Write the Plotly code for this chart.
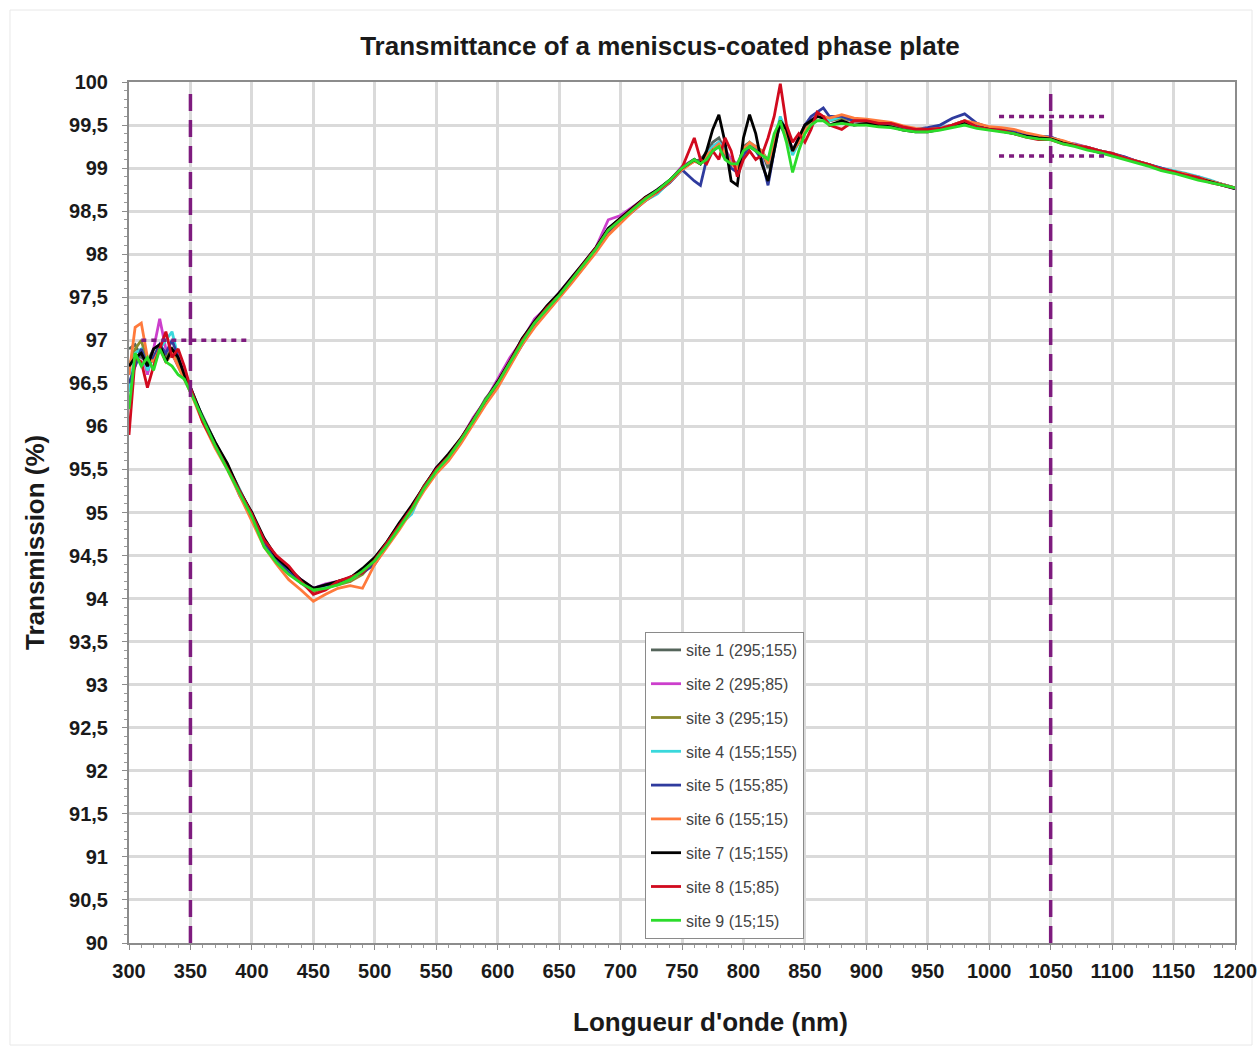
import plotly.graph_objects as go

# Wavelength sampling (nm)
wavelengths = [300, 305, 310, 315, 320, 325, 330, 335, 340, 345, 350,
               360, 370, 380, 390, 400, 410, 420, 430, 440, 450,
               460, 470, 480, 490, 500, 510, 520, 530, 540, 550,
               560, 570, 580, 590, 600, 610, 620, 630, 640, 650,
               660, 670, 680, 690, 700, 710, 720, 730, 740, 750,
               760, 765, 770, 775, 780, 785, 790, 795, 800, 805,
               810, 815, 820, 825, 830, 835, 840, 845, 850, 855,
               860, 865, 870, 880, 890, 900, 910, 920, 930, 940,
               950, 960, 970, 980, 990, 1000, 1010, 1020, 1030, 1040,
               1050, 1060, 1070, 1080, 1090, 1100, 1110, 1120, 1130, 1140,
               1150, 1160, 1170, 1180, 1190, 1200]

# Measured transmission (%) per site
site1 = [96.9, 96.95, 96.8, 96.75, 96.9, 96.95, 96.75, 96.85, 96.7, 96.55, 96.4,
         96.12, 95.82, 95.55, 95.27, 94.97, 94.66, 94.46, 94.33, 94.2, 94.12,
         94.14, 94.2, 94.24, 94.3, 94.47, 94.66, 94.87, 95.04, 95.31, 95.5,
         95.67, 95.84, 96.06, 96.32, 96.5, 96.74, 97.02, 97.2, 97.36, 97.54,
         97.7, 97.9, 98.06, 98.3, 98.42, 98.5, 98.66, 98.72, 98.86, 99.0,
         99.08, 99.1, 99.18, 99.3, 99.35, 99.2, 99.05, 99.0, 99.25, 99.3,
         99.22, 99.2, 99.0, 99.3, 99.5, 99.35, 99.2, 99.3, 99.5, 99.55,
         99.62, 99.6, 99.55, 99.6, 99.55, 99.56, 99.52, 99.5, 99.47, 99.45,
         99.44, 99.46, 99.5, 99.54, 99.5, 99.47, 99.44, 99.42, 99.38, 99.36,
         99.35, 99.3, 99.27, 99.23, 99.2, 99.16, 99.12, 99.07, 99.04, 98.99,
         98.96, 98.92, 98.89, 98.85, 98.81, 98.77]

site2 = [96.6, 96.7, 96.9, 96.6, 96.9, 97.25, 96.9, 96.85, 96.7, 96.6, 96.45,
         96.08, 95.8, 95.55, 95.22, 94.98, 94.68, 94.47, 94.35, 94.22, 94.12,
         94.17, 94.2, 94.2, 94.33, 94.45, 94.64, 94.86, 95.06, 95.28, 95.52,
         95.64, 95.85, 96.1, 96.3, 96.55, 96.8, 97.0, 97.25, 97.38, 97.55,
         97.72, 97.9, 98.08, 98.4, 98.45, 98.55, 98.65, 98.75, 98.85, 99.02,
         99.1, 99.05, 99.15, 99.25, 99.3, 99.22, 99.1, 99.05, 99.2, 99.28,
         99.25, 99.18, 99.1, 99.3, 99.55, 99.45, 99.2, 99.35, 99.5, 99.55,
         99.62, 99.6, 99.55, 99.58, 99.55, 99.54, 99.52, 99.5, 99.48, 99.44,
         99.45, 99.47, 99.5, 99.55, 99.5, 99.47, 99.44, 99.42, 99.38, 99.36,
         99.36, 99.3, 99.28, 99.24, 99.2, 99.16, 99.13, 99.08, 99.03, 99.0,
         98.96, 98.92, 98.9, 98.85, 98.8, 98.76]

site3 = [96.7, 96.9, 97.0, 96.75, 96.8, 96.95, 96.8, 96.9, 96.75, 96.6, 96.45,
         96.1, 95.8, 95.56, 95.24, 94.98, 94.64, 94.43, 94.3, 94.18, 94.08,
         94.13, 94.16, 94.2, 94.28, 94.44, 94.64, 94.86, 95.06, 95.3, 95.5,
         95.66, 95.86, 96.06, 96.28, 96.5, 96.74, 96.98, 97.2, 97.38, 97.52,
         97.7, 97.88, 98.06, 98.28, 98.4, 98.52, 98.64, 98.74, 98.86, 99.0,
         99.1, 99.05, 99.12, 99.22, 99.28, 99.2, 99.05, 99.02, 99.2, 99.28,
         99.25, 99.2, 99.08, 99.3, 99.55, 99.4, 99.18, 99.3, 99.45, 99.52,
         99.6, 99.6, 99.55, 99.58, 99.55, 99.54, 99.52, 99.5, 99.47, 99.44,
         99.44, 99.46, 99.5, 99.54, 99.5, 99.46, 99.44, 99.41, 99.38, 99.36,
         99.35, 99.3, 99.27, 99.23, 99.2, 99.16, 99.12, 99.08, 99.04, 98.99,
         98.95, 98.92, 98.89, 98.85, 98.81, 98.77]

site4 = [96.4, 96.85, 96.9, 96.65, 96.8, 96.9, 97.0, 97.1, 96.8, 96.6, 96.45,
         96.1, 95.8, 95.54, 95.26, 94.98, 94.65, 94.45, 94.32, 94.2, 94.1,
         94.15, 94.18, 94.22, 94.32, 94.45, 94.65, 94.85, 94.98, 95.3, 95.5,
         95.65, 95.85, 96.07, 96.3, 96.5, 96.75, 97.0, 97.2, 97.38, 97.5,
         97.68, 97.88, 98.07, 98.3, 98.4, 98.52, 98.62, 98.7, 98.84, 98.98,
         99.1, 99.05, 99.15, 99.25, 99.3, 99.2, 99.05, 99.02, 99.2, 99.3,
         99.25, 99.2, 99.05, 99.3, 99.6, 99.4, 99.15, 99.3, 99.45, 99.5,
         99.6, 99.6, 99.55, 99.6, 99.55, 99.55, 99.52, 99.52, 99.48, 99.45,
         99.45, 99.47, 99.5, 99.55, 99.5, 99.46, 99.44, 99.42, 99.38, 99.37,
         99.36, 99.3, 99.27, 99.24, 99.2, 99.17, 99.12, 99.08, 99.04, 99.0,
         98.97, 98.94, 98.9, 98.86, 98.81, 98.77]

site5 = [96.5, 96.7, 96.9, 96.7, 96.8, 96.95, 96.85, 97.0, 96.8, 96.6, 96.42,
         96.1, 95.78, 95.55, 95.2, 94.96, 94.65, 94.45, 94.3, 94.2, 94.12,
         94.16, 94.18, 94.25, 94.3, 94.4, 94.62, 94.84, 95.03, 95.28, 95.48,
         95.64, 95.83, 96.05, 96.27, 96.48, 96.72, 96.95, 97.18, 97.33, 97.5,
         97.68, 97.85, 98.05, 98.25, 98.38, 98.5, 98.62, 98.72, 98.83, 98.98,
         98.85, 98.8, 99.1, 99.2, 99.25, 99.15, 99.0, 98.95, 99.15, 99.25,
         99.2, 99.1, 98.8, 99.2, 99.55, 99.4, 99.2, 99.3, 99.5, 99.6,
         99.65, 99.7, 99.6, 99.6, 99.55, 99.55, 99.52, 99.52, 99.48, 99.45,
         99.47, 99.5, 99.58, 99.63, 99.52, 99.47, 99.45, 99.43, 99.39, 99.37,
         99.36, 99.31, 99.27, 99.24, 99.2, 99.17, 99.13, 99.08, 99.04, 99.0,
         98.96, 98.93, 98.89, 98.85, 98.81, 98.77]

site6 = [96.6, 97.15, 97.2, 96.8, 96.75, 96.9, 96.75, 96.85, 96.7, 96.55, 96.4,
         96.05, 95.75, 95.5, 95.2, 94.92, 94.6, 94.4, 94.22, 94.1, 93.97,
         94.05, 94.12, 94.15, 94.12, 94.4, 94.6, 94.8, 95.02, 95.25, 95.45,
         95.6, 95.8, 96.02, 96.25, 96.45, 96.7, 96.95, 97.15, 97.32, 97.48,
         97.66, 97.84, 98.02, 98.22, 98.36, 98.5, 98.62, 98.72, 98.84, 98.98,
         99.08, 99.05, 99.15, 99.22, 99.28, 99.18, 99.05, 99.0, 99.22, 99.3,
         99.25, 99.2, 99.05, 99.3, 99.55, 99.4, 99.2, 99.3, 99.45, 99.5,
         99.6, 99.6, 99.58, 99.62, 99.58, 99.57, 99.55, 99.53, 99.49, 99.46,
         99.45, 99.46, 99.5, 99.55, 99.52, 99.48, 99.47, 99.45, 99.41, 99.38,
         99.35, 99.32, 99.27, 99.24, 99.2, 99.17, 99.12, 99.08, 99.04, 98.99,
         98.96, 98.93, 98.89, 98.85, 98.81, 98.77]

site7 = [96.7, 96.8, 96.85, 96.7, 96.9, 96.95, 96.75, 96.9, 96.8, 96.6, 96.45,
         96.1, 95.82, 95.57, 95.25, 95.0, 94.7, 94.48, 94.35, 94.22, 94.12,
         94.16, 94.2, 94.24, 94.35, 94.48, 94.66, 94.88, 95.08, 95.3, 95.52,
         95.68, 95.86, 96.08, 96.3, 96.52, 96.76, 97.02, 97.22, 97.4, 97.55,
         97.72, 97.9, 98.08, 98.3, 98.42, 98.54, 98.66, 98.75, 98.86, 99.0,
         99.1, 99.05, 99.2, 99.45, 99.62, 99.3, 98.85, 98.8, 99.35, 99.62,
         99.4, 99.05, 98.85, 99.2, 99.55, 99.45, 99.2, 99.35, 99.5, 99.55,
         99.6, 99.58, 99.5, 99.55, 99.5, 99.52, 99.5, 99.48, 99.44, 99.42,
         99.42, 99.45, 99.48, 99.52, 99.48, 99.45, 99.43, 99.4, 99.37, 99.35,
         99.34, 99.29, 99.26, 99.22, 99.18, 99.15, 99.11, 99.07, 99.03, 98.98,
         98.95, 98.91, 98.88, 98.84, 98.8, 98.76]

site8 = [95.9, 96.8, 96.75, 96.45, 96.7, 96.9, 97.1, 96.8, 96.9, 96.7, 96.45,
         96.05, 95.78, 95.52, 95.25, 94.98, 94.68, 94.5, 94.38, 94.2, 94.05,
         94.1, 94.2, 94.25, 94.3, 94.45, 94.65, 94.85, 95.05, 95.3, 95.5,
         95.65, 95.85, 96.07, 96.3, 96.5, 96.75, 97.0, 97.2, 97.38, 97.52,
         97.7, 97.88, 98.07, 98.28, 98.4, 98.52, 98.65, 98.73, 98.85, 99.0,
         99.35, 99.1, 99.05, 99.2, 99.1, 99.35, 99.2, 98.9, 99.1, 99.2,
         99.1, 99.15, 99.35, 99.6, 99.98, 99.5, 99.3, 99.4, 99.3, 99.45,
         99.65, 99.6, 99.5, 99.45, 99.55, 99.55, 99.52, 99.52, 99.48, 99.45,
         99.45, 99.46, 99.5, 99.55, 99.48, 99.45, 99.44, 99.4, 99.36, 99.33,
         99.33, 99.28, 99.26, 99.24, 99.2, 99.17, 99.12, 99.08, 99.04, 98.99,
         98.96, 98.92, 98.89, 98.83, 98.8, 98.77]

site9 = [96.2, 96.85, 96.7, 96.8, 96.65, 96.9, 96.75, 96.7, 96.6, 96.55, 96.4,
         96.08, 95.78, 95.5, 95.22, 94.95, 94.6, 94.42, 94.28, 94.18, 94.1,
         94.12, 94.16, 94.22, 94.32, 94.44, 94.62, 94.82, 95.03, 95.28, 95.48,
         95.64, 95.84, 96.06, 96.3, 96.5, 96.74, 96.98, 97.2, 97.36, 97.52,
         97.7, 97.88, 98.06, 98.28, 98.4, 98.52, 98.64, 98.74, 98.86, 99.0,
         99.1, 99.05, 99.1, 99.2, 99.25, 99.1, 99.05, 99.05, 99.2, 99.25,
         99.2, 99.15, 99.1, 99.4, 99.55, 99.3, 98.95, 99.2, 99.4, 99.5,
         99.55, 99.55, 99.5, 99.52, 99.5, 99.5, 99.48, 99.47, 99.44, 99.42,
         99.42, 99.44, 99.47, 99.5, 99.46, 99.44, 99.42, 99.4, 99.36, 99.34,
         99.33, 99.28, 99.25, 99.21, 99.18, 99.14, 99.1, 99.06, 99.02, 98.97,
         98.94, 98.9, 98.86, 98.83, 98.8, 98.77]

site_names = ["site 1 (295;155)", "site 2 (295;85)", "site 3 (295;15)",
              "site 4 (155;155)", "site 5 (155;85)", "site 6 (155;15)",
              "site 7 (15;155)", "site 8 (15;85)", "site 9 (15;15)"]
site_colors = ["#55655b", "#cc3fcc", "#8a8a2e", "#3ad8dc", "#2f3b9e",
               "#ff7a3c", "#000000", "#d10a1e", "#2bdc2b"]

x_ticks = [300, 350, 400, 450, 500, 550, 600, 650, 700, 750, 800, 850, 900,
           950, 1000, 1050, 1100, 1150, 1200]
y_ticks = [90, 90.5, 91, 91.5, 92, 92.5, 93, 93.5, 94, 94.5, 95, 95.5, 96,
           96.5, 97, 97.5, 98, 98.5, 99, 99.5, 100]
y_tick_labels = ["90", "90,5", "91", "91,5", "92", "92,5", "93", "93,5", "94",
                 "94,5", "95", "95,5", "96", "96,5", "97", "97,5", "98", "98,5",
                 "99", "99,5", "100"]

# Reference limits marked on the chart
band_edges = [350, 1050]
uv_level = 97
uv_span = [310, 397]
ir_levels = [99.6, 99.14]
ir_span = [1008, 1094]

series = [site1, site2, site3, site4, site5, site6, site7, site8, site9]

fig = go.Figure()
for i, (name, color, vals) in enumerate(zip(site_names, site_colors, series)):
    fig.add_trace(go.Scatter(
        x=wavelengths, y=vals, mode="lines", name=name,
        line=dict(color=color, width=2.8),
        legendgroup=f"g{i}",
    ))

purple = "#7e1b7e"
for xv in band_edges:
    fig.add_shape(type="line", xref="x", yref="paper", x0=xv, x1=xv, y0=0, y1=0.988,
                  line=dict(color=purple, width=3.5, dash="17px,9px"), layer="above")
fig.add_shape(type="line", xref="x", yref="y", x0=uv_span[0], x1=uv_span[1],
              y0=uv_level, y1=uv_level,
              line=dict(color=purple, width=3.5, dash="5px,5px"), layer="above")
for yv in ir_levels:
    fig.add_shape(type="line", xref="x", yref="y", x0=ir_span[0], x1=ir_span[1],
                  y0=yv, y1=yv,
                  line=dict(color=purple, width=3.5, dash="5px,5px"), layer="above")

# faint chart-area frame
fig.add_shape(type="rect", xref="paper", yref="paper",
              x0=-0.1076, x1=1.0154, y0=-0.1185, y1=1.0836,
              line=dict(color="#e8e8e8", width=1), layer="below")

tick_font = dict(family="Liberation Sans", size=20, color="#1a1a1a", weight="bold")
grid_col = "#dadada"

fig.update_xaxes(
    range=[300, 1200], tickvals=x_ticks, ticktext=[str(v) for v in x_ticks],
    tickfont=tick_font, showgrid=True, gridcolor=grid_col, gridwidth=3,
    showline=True, linecolor="#8c8c8c", linewidth=2, mirror=True,
    ticks="outside", ticklen=5, tickcolor="#8c8c8c",
    minor=dict(dtick=10, ticks="outside", ticklen=3, tickcolor="#9a9a9a", showgrid=False),
    zeroline=False, ticklabelstandoff=4,
)
fig.update_yaxes(
    range=[90, 100], tickvals=y_ticks, ticktext=y_tick_labels,
    tickfont=tick_font, showgrid=True, gridcolor=grid_col, gridwidth=3,
    showline=True, linecolor="#8c8c8c", linewidth=2, mirror=True,
    ticks="outside", ticklen=5, tickcolor="#8c8c8c",
    minor=dict(dtick=0.1, ticks="outside", ticklen=3, tickcolor="#9a9a9a", showgrid=False),
    zeroline=False, ticklabelstandoff=10,
)

title_font = dict(family="Liberation Sans", size=26, color="#1a1a1a", weight="bold")
fig.update_layout(
    width=1258, height=1047,
    margin=dict(l=129, r=23, t=82, b=104, autoexpand=False),
    paper_bgcolor="white", plot_bgcolor="white",
    title=dict(text="Transmittance of a meniscus-coated phase plate",
               x=660 / 1258, xanchor="center", xref="container",
               y=1 - 46 / 1047, yanchor="middle", yref="container",
               font=dict(family="Liberation Sans", size=26, color="#1a1a1a", weight="bold")),
    legend=dict(
        x=(645 - 129) / 1106, y=(943 - 632) / 861, xanchor="left", yanchor="top",
        bgcolor="white", bordercolor="#8a8a8a", borderwidth=1,
        font=dict(family="Liberation Sans", size=16, color="#444444"),
        tracegroupgap=10, itemwidth=30,
    ),
    annotations=[
        dict(text="Longueur d'onde (nm)", xref="paper", yref="paper",
             x=(710 - 129) / 1106, y=(943 - 1022) / 861, xanchor="center",
             yanchor="middle", showarrow=False, font=title_font),
        dict(text="Transmission (%)", xref="paper", yref="paper",
             x=(35 - 129) / 1106, y=(943 - 543) / 861, xanchor="center",
             yanchor="middle", showarrow=False, textangle=-90, font=title_font),
    ],
)

fig.write_html("out.html")
